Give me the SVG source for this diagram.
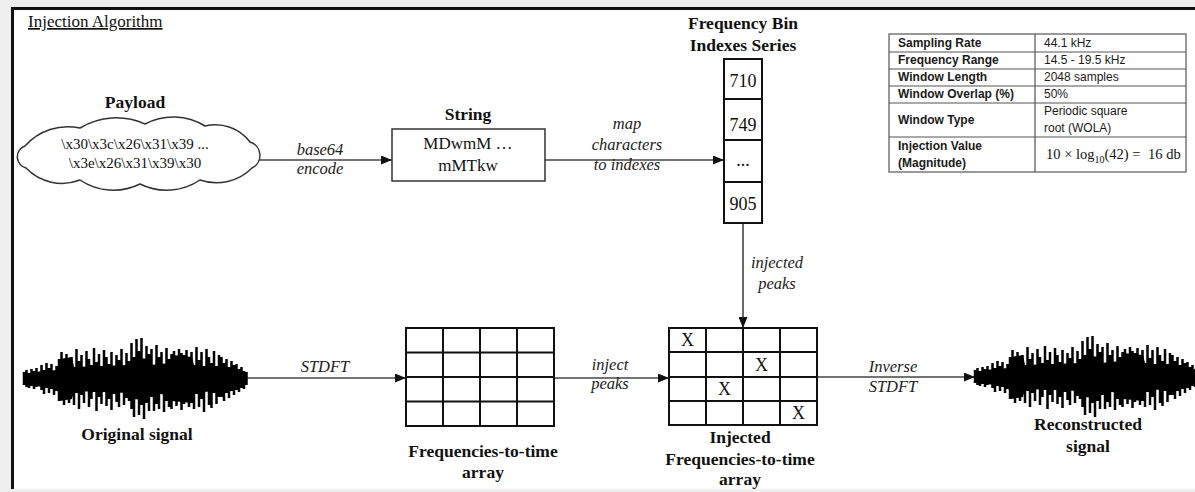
<svg xmlns="http://www.w3.org/2000/svg" width="1195" height="492" viewBox="0 0 1195 492">
<style>
.serif{font-family:"Liberation Serif","Times New Roman",serif;fill:#111}
.lbl{font-family:"Liberation Serif","Times New Roman",serif;font-style:italic;font-size:16.5px;fill:#222;text-anchor:middle}
.ttl{font-family:"Liberation Serif","Times New Roman",serif;font-weight:bold;font-size:17.5px;fill:#111;text-anchor:middle}
.cell{font-family:"Liberation Serif","Times New Roman",serif;font-size:18px;fill:#111;text-anchor:middle}
.conn{stroke:#444;stroke-width:1.6;fill:none}
.grid{stroke:#111;stroke-width:2;fill:none}
.tb{font-family:"Liberation Sans",Arial,sans-serif;font-size:12px;fill:#1a1a1a}
.tbb{font-family:"Liberation Sans",Arial,sans-serif;font-size:12px;font-weight:bold;fill:#1a1a1a}
.tl{stroke:#555;stroke-width:1.2;fill:none}
</style>
<defs>
<marker id="ah" markerUnits="userSpaceOnUse" markerWidth="11" markerHeight="9" refX="11" refY="4.5" orient="auto">
<path d="M0,0 L11,4.5 L0,9 z" fill="#111"/>
</marker>
<g id="wave">
<polygon points="0,-5 10,-7 33,-9 36,-20 48,-22 50,-12 105,-14 108,-22 124,-20 126,-14 146,-16 148,-24 168,-22 170,-14 200,-11 222.5,-5 222.5,5 200,11 170,14 168,24 148,22 146,16 126,14 124,21 108,20 105,14 50,12 48,20 36,22 33,9 10,7 0,5" fill="#000"/>
<path stroke="#000" stroke-width="2.5" fill="none" d="M0 -7V6M2.5 -9V8M5 -6V9M7.5 -10V7M10 -8V10M12.5 -11V8M15 -7V6M17.5 -14V11M20 -9V15M22.5 -16V9M25 -11V14M27.5 -15V10M30 -8V16M32.5 -13V12M35 -20V22M37.5 -27V16M40 -18V26M42.5 -25V20M45 -14V24M47.5 -22V15M50 -12V26M52.5 -30V14M55 -18V30M57.5 -24V16M60 -10V24M62.5 -28V12M65 -20V28M67.5 -14V20M70 -31V13M72.5 -17V32M75 -25V18M77.5 -12V25M80 -29V11M82.5 -22V27M85 -15V20M87.5 -27V31M90 -11V15M92.5 -24V23M95 -19V28M97.5 -30V12M100 -13V26M102.5 -26V19M105 -18V22M107.5 -36V30M110 -22V38M112.5 -40V20M115 -28V36M117.5 -41V26M120 -18V40M122.5 -33V24M125 -25V32M127.5 -30V18M130 -14V32M132.5 -34V25M135 -22V30M137.5 -27V14M140 -12V33M142.5 -31V22M145 -20V28M147.5 -25V30M150 -28V22M152.5 -22V27M155 -30V20M157.5 -26V31M160 -24V25M162.5 -29V18M165 -20V28M167.5 -27V24M170 -14V30M172.5 -32V15M175 -19V28M177.5 -27V20M180 -11V33M182.5 -30V12M185 -22V26M187.5 -16V29M190 -28V14M192.5 -13V25M195 -24V18M197.5 -22V18M200 -16V22M202.5 -20V14M205 -12V19M207.5 -18V12M210 -14V16M212.5 -15V11M215 -10V13M217.5 -12V9M220 -8V10M222.5 -7V6"/>
</g>
</defs>

<rect x="0" y="0" width="1195" height="492" fill="#efefef"/>
<rect x="12" y="8" width="1190" height="481" fill="#fff"/>
<path d="M12.5 489 V8.5 H1200" stroke="#111" stroke-width="3" fill="none"/>

<text id="title" class="serif" x="28" y="27" font-size="17" text-decoration="underline" fill="#222">Injection Algorithm</text>

<g id="connectors">
<path class="conn" d="M258 160 H392" marker-end="url(#ah)"/>
<path class="conn" d="M545 160 H724" marker-end="url(#ah)"/>
<path class="conn" d="M743 223 V328" marker-end="url(#ah)"/>
<path class="conn" d="M247 378 H406" marker-end="url(#ah)"/>
<path class="conn" d="M554 378 H669" marker-end="url(#ah)"/>
<path class="conn" d="M817 377 H975" marker-end="url(#ah)"/>
<text class="lbl" x="320" y="155">base64</text>
<text class="lbl" x="320" y="174">encode</text>
<text class="lbl" x="627" y="129">map</text>
<text class="lbl" x="627" y="150">characters</text>
<text class="lbl" x="627" y="170">to indexes</text>
<text class="lbl" x="777" y="268">injected</text>
<text class="lbl" x="777" y="289">peaks</text>
<text class="lbl" x="325" y="372">STDFT</text>
<text class="lbl" x="610" y="370">inject</text>
<text class="lbl" x="610" y="389">peaks</text>
<text class="lbl" x="893" y="372">Inverse</text>
<text class="lbl" x="893" y="392">STDFT</text>
</g>

<g id="payload">
<text class="ttl" x="135" y="108">Payload</text>
<path d="M25 146 A57 57 0 0 1 80 128 A70 70 0 0 1 145 124 A60 60 0 0 1 205 126 A43 43 0 0 1 250 142 A14 14 0 0 1 252 168 A50 50 0 0 1 200 180 A60 60 0 0 1 140 184 A60 60 0 0 1 80 180 A50 50 0 0 1 26 168 A11.5 11.5 0 0 1 25 146 Z" fill="#fff" stroke="#333" stroke-width="1.5"/>
<text class="serif" x="135" y="149" font-size="15" text-anchor="middle" fill="#333">\x30\x3c\x26\x31\x39 ...</text>
<text class="serif" x="135" y="168" font-size="15" text-anchor="middle" fill="#333">\x3e\x26\x31\x39\x30</text>
</g>

<g id="string">
<text class="ttl" x="468" y="120">String</text>
<rect x="392" y="129" width="153" height="52" fill="#fff" stroke="#333" stroke-width="1.5"/>
<text class="serif" x="468" y="149" font-size="17" text-anchor="middle">MDwmM …</text>
<text class="serif" x="468" y="171" font-size="17" text-anchor="middle">mMTkw</text>
</g>

<g id="series">
<text class="ttl" x="743" y="29">Frequency Bin</text>
<text class="ttl" x="743" y="51">Indexes Series</text>
<rect x="724" y="59" width="38" height="164" fill="#fff" stroke="#111" stroke-width="2"/>
<path d="M724 99 H762 M724 140 H762 M724 182 H762" stroke="#111" stroke-width="2"/>
<text class="cell" x="743" y="87">710</text>
<text class="cell" x="743" y="131">749</text>
<text class="cell" x="743" y="166">...</text>
<text class="cell" x="743" y="210">905</text>
</g>

<g id="params">
<rect x="889" y="34" width="297" height="138" fill="#fff" class="tl"/>
<path class="tl" d="M1035 34 V172 M889 52 H1186 M889 69 H1186 M889 86 H1186 M889 103 H1186 M889 137 H1186"/>
<text class="tbb" x="898" y="47">Sampling Rate</text>
<text class="tbb" x="898" y="64">Frequency Range</text>
<text class="tbb" x="898" y="81">Window Length</text>
<text class="tbb" x="898" y="98">Window Overlap (%)</text>
<text class="tbb" x="898" y="124">Window Type</text>
<text class="tbb" x="898" y="150">Injection Value</text>
<text class="tbb" x="898" y="167">(Magnitude)</text>
<text class="tb" x="1044" y="47">44.1 kHz</text>
<text class="tb" x="1044" y="64">14.5 - 19.5 kHz</text>
<text class="tb" x="1044" y="81">2048 samples</text>
<text class="tb" x="1044" y="98">50%</text>
<text class="tb" x="1044" y="115">Periodic square</text>
<text class="tb" x="1044" y="132">root (WOLA)</text>
<text class="serif" x="1046" y="159" font-size="14.5">10 × log<tspan font-size="10" dy="4">10</tspan><tspan dy="-4">(42) = </tspan><tspan dx="4">16 db</tspan></text>
</g>

<g id="original">
<use href="#wave" transform="translate(24,379)"/>
<text class="ttl" x="137" y="440" font-size="18">Original signal</text>
</g>

<g id="fta">
<rect class="grid" x="406" y="328" width="148" height="98"/>
<path class="grid" d="M443 328 V426 M480 328 V426 M517 328 V426 M406 352.5 H554 M406 377 H554 M406 401.5 H554"/>
<text class="ttl" x="483" y="457">Frequencies-to-time</text>
<text class="ttl" x="483" y="478">array</text>
</g>

<g id="injected">
<rect class="grid" x="669" y="328" width="148" height="97"/>
<path class="grid" d="M706 328 V425 M743 328 V425 M780 328 V425 M669 352 H817 M669 377 H817 M669 401 H817"/>
<text class="cell" x="687.5" y="346" font-size="17">X</text>
<text class="cell" x="761.5" y="370.5" font-size="17">X</text>
<text class="cell" x="724.5" y="395" font-size="17">X</text>
<text class="cell" x="798.5" y="419" font-size="17">X</text>
<text class="ttl" x="740" y="443">Injected</text>
<text class="ttl" x="740" y="465">Frequencies-to-time</text>
<text class="ttl" x="740" y="485">array</text>
</g>

<g id="reconstructed">
<use href="#wave" transform="translate(975,377)"/>
<text class="ttl" x="1088" y="430">Reconstructed</text>
<text class="ttl" x="1088" y="452">signal</text>
</g>
</svg>
